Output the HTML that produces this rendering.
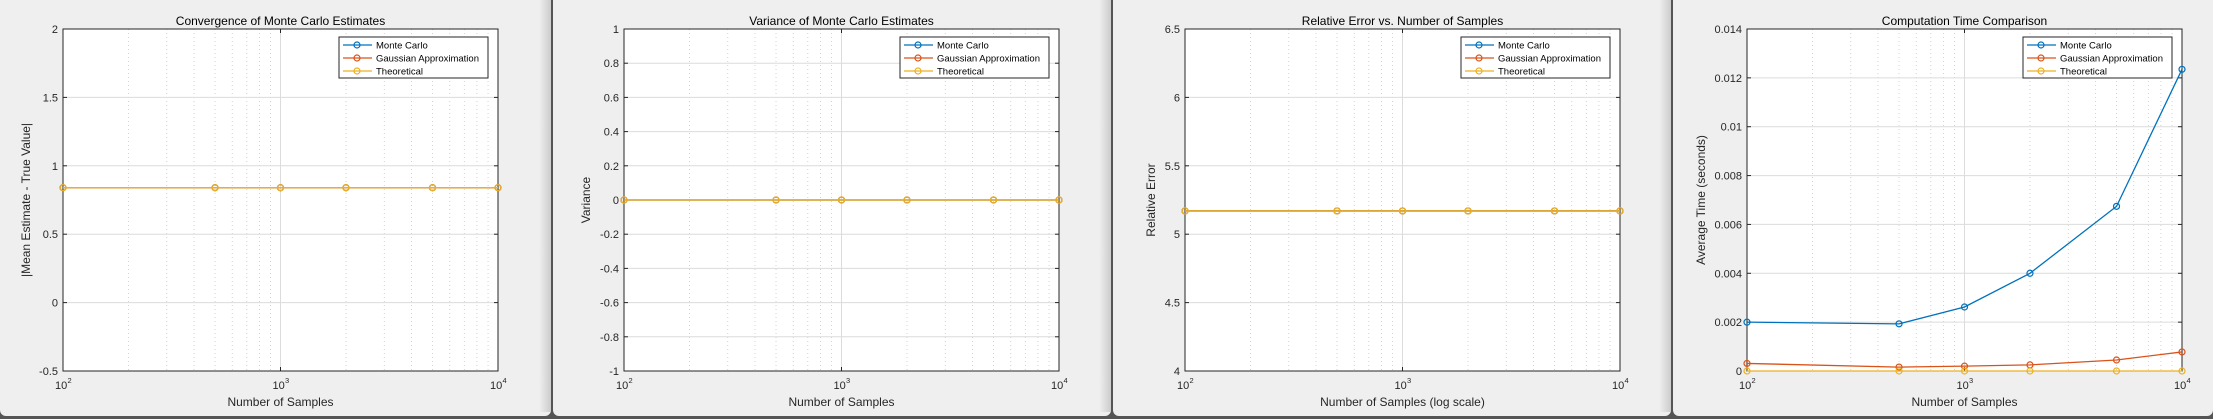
<!DOCTYPE html>
<html><head><meta charset="utf-8"><style>
html,body{margin:0;padding:0;background:#3a3a3a;}
svg{display:block;font-family:"Liberation Sans",sans-serif;}
</style></head><body>
<svg id="root" width="2213" height="419" viewBox="0 0 2213 419" xmlns="http://www.w3.org/2000/svg">
<defs>
<linearGradient id="shade" x1="0" x2="1" y1="0" y2="0">
<stop offset="0" stop-color="#efefef"/><stop offset="1" stop-color="#bdbdbd"/>
</linearGradient>
</defs>
<rect x="0" y="0" width="2213" height="419" fill="#555"/>
</svg>
<script>
// shared x categories (number of samples)
const sampleSizes = [100, 500, 1000, 2000, 5000, 10000];
const seriesNames = ["Monte Carlo", "Gaussian Approximation", "Theoretical"];
// panel 1
const p1Mc = [0.84, 0.84, 0.84, 0.84, 0.84, 0.84];
const p1Ga = [0.84, 0.84, 0.84, 0.84, 0.84, 0.84];
const p1Th = [0.84, 0.84, 0.84, 0.84, 0.84, 0.84];
const p1Ticks = [-0.5, 0, 0.5, 1, 1.5, 2];
const p1TickLabels = ["-0.5", "0", "0.5", "1", "1.5", "2"];
// panel 2
const p2Mc = [0, 0, 0, 0, 0, 0];
const p2Ga = [0, 0, 0, 0, 0, 0];
const p2Th = [0, 0, 0, 0, 0, 0];
const p2Ticks = [-1, -0.8, -0.6, -0.4, -0.2, 0, 0.2, 0.4, 0.6, 0.8, 1];
const p2TickLabels = ["-1", "-0.8", "-0.6", "-0.4", "-0.2", "0", "0.2", "0.4", "0.6", "0.8", "1"];
// panel 3
const p3Mc = [5.17, 5.17, 5.17, 5.17, 5.17, 5.17];
const p3Ga = [5.17, 5.17, 5.17, 5.17, 5.17, 5.17];
const p3Th = [5.17, 5.17, 5.17, 5.17, 5.17, 5.17];
const p3Ticks = [4, 4.5, 5, 5.5, 6, 6.5];
const p3TickLabels = ["4", "4.5", "5", "5.5", "6", "6.5"];
// panel 4
const p4Mc = [0.00200, 0.00193, 0.00262, 0.00400, 0.00674, 0.01235];
const p4Ga = [0.00031, 0.00016, 0.00020, 0.00025, 0.00045, 0.00078];
const p4Th = [0, 0, 0, 0, 0, 0];
const p4Ticks = [0, 0.002, 0.004, 0.006, 0.008, 0.01, 0.012, 0.014];
const p4TickLabels = ["0", "0.002", "0.004", "0.006", "0.008", "0.01", "0.012", "0.014"];
const xTickExp = ["2", "3", "4"];

const NS = "http://www.w3.org/2000/svg";
const root = document.getElementById("root");
const colors = ["#0072bd", "#d95319", "#edb120"];

function mk(tag, attrs, parent, text) {
  const e = document.createElementNS(NS, tag);
  for (const k in attrs) e.setAttribute(k, attrs[k]);
  if (text !== undefined) e.textContent = text;
  (parent || root).appendChild(e);
  return e;
}

const panels = [
  {win: [0, 551], left: 63, title: "Convergence of Monte Carlo Estimates", ylab: "|Mean Estimate - True Value|", xlab: "Number of Samples", ylabX: 30, ymin: -0.5, ymax: 2, ticks: p1Ticks, tl: p1TickLabels, series: [p1Mc, p1Ga, p1Th], id: "convergence"},
  {win: [553, 1111], left: 624, title: "Variance of Monte Carlo Estimates", ylab: "Variance", xlab: "Number of Samples", ylabX: 590, ymin: -1, ymax: 1, ticks: p2Ticks, tl: p2TickLabels, series: [p2Mc, p2Ga, p2Th], id: "variance"},
  {win: [1113, 1671], left: 1185, title: "Relative Error vs. Number of Samples", ylab: "Relative Error", xlab: "Number of Samples (log scale)", ylabX: 1155, ymin: 4, ymax: 6.5, ticks: p3Ticks, tl: p3TickLabels, series: [p3Mc, p3Ga, p3Th], id: "relative-error"},
  {win: [1673, 2213], left: 1747, title: "Computation Time Comparison", ylab: "Average Time (seconds)", xlab: "Number of Samples", ylabX: 1705, ymin: 0, ymax: 0.014, ticks: p4Ticks, tl: p4TickLabels, series: [p4Mc, p4Ga, p4Th], id: "computation-time"}
];

const TOP = 29, BOT = 371, DEC = 217.5;

panels.forEach((p, pi) => {
  const g = mk("g", {});
  
  
  mk("rect", {x: p.win[0], y: 0, width: p.win[1] - p.win[0], height: 416, rx: 6, fill: "#efefef"}, g);
  mk("rect", {x: p.win[0], y: 0, width: p.win[1] - p.win[0], height: 8, fill: "#efefef"}, g);
  if (pi < 3) mk("rect", {x: p.win[1] - 12, y: 0, width: 12, height: 412, fill: "url(#shade)", opacity: 0.7}, g);
  const L = p.left, R = L + 2 * DEC;
  const xs = (v) => L + (Math.log10(v) - 2) * DEC;
  const ys = (v) => BOT - (v - p.ymin) / (p.ymax - p.ymin) * (BOT - TOP);
  mk("rect", {x: L, y: TOP, width: R - L, height: BOT - TOP, fill: "#fff"}, g);
  for (let d = 2; d <= 3; d++) for (let m = 2; m <= 9; m++) {
    const x = xs(m * Math.pow(10, d));
    mk("line", {x1: x, x2: x, y1: TOP, y2: BOT, stroke: "#c8c8c8", "stroke-width": 0.8, "stroke-dasharray": "1,3"}, g);
  }
  const xg = xs(1000);
  mk("line", {x1: xg, x2: xg, y1: TOP, y2: BOT, stroke: "#dcdcdc", "stroke-width": 1}, g);
  p.ticks.forEach((t, i) => {
    const y = ys(t);
    const gl = mk("line", {x1: L, x2: R, y1: y, y2: y, stroke: "#dcdcdc", "stroke-width": 1}, g);
    
    
    mk("line", {x1: L, x2: L + 4, y1: y, y2: y, stroke: "#262626"}, g);
    mk("line", {x1: R, x2: R - 4, y1: y, y2: y, stroke: "#262626"}, g);
    const tl = mk("text", {x: L - 5, y: y + 4, "text-anchor": "end", "font-size": 11, fill: "#262626"}, g, p.tl[i]);
    
    
  });
  xTickExp.forEach((e, i) => {
    const x = xs(Math.pow(10, 2 + i));
    mk("line", {x1: x, x2: x, y1: BOT, y2: BOT - 4, stroke: "#262626"}, g);
    mk("line", {x1: x, x2: x, y1: TOP, y2: TOP + 4, stroke: "#262626"}, g);
    const t = mk("text", {x: x - 8, y: 389, "font-size": 11, fill: "#262626"}, g, "10");
    
    
    mk("text", {x: x + 4.5, y: 383, "font-size": 7.5, fill: "#262626"}, g, e);
  });
  const box = mk("rect", {x: L, y: TOP, width: R - L, height: BOT - TOP, fill: "none", stroke: "#262626", "stroke-width": 1}, g);
  
  
  p.series.forEach((s, si) => {
    const pts = sampleSizes.map((n, i) => xs(n) + "," + ys(s[i])).join(" ");
    const pl = mk("polyline", {points: pts, fill: "none", stroke: colors[si], "stroke-width": 1.3}, g);
    
    
    sampleSizes.forEach((n, i) => {
      const c = mk("circle", {cx: xs(n), cy: ys(s[i]), r: 3, fill: "none", stroke: colors[si], "stroke-width": 1.2}, g);
      
      
    });
  });
  const tt = mk("text", {x: (L + R) / 2, y: 25, "text-anchor": "middle", "font-size": 12, fill: "#000"}, g, p.title);
  
  
  const xl = mk("text", {x: (L + R) / 2, y: 406, "text-anchor": "middle", "font-size": 12, fill: "#262626"}, g, p.xlab);
  
  
  const cy = (TOP + BOT) / 2;
  const yl = mk("text", {x: p.ylabX, y: cy, "text-anchor": "middle", "font-size": 12, fill: "#262626", transform: "rotate(-90 " + (p.ylabX) + " " + cy + ")"}, g, p.ylab);
  
  
  const lg = mk("g", {}, g);
  
  
  const lx = R - 159, ly = 37;
  mk("rect", {x: lx, y: ly, width: 149, height: 41, fill: "#fff", stroke: "#262626", "stroke-width": 1}, lg);
  seriesNames.forEach((nm, i) => {
    const yy = ly + 8 + i * 13;
    const le = mk("g", {}, lg);
    
    
    mk("line", {x1: lx + 4, x2: lx + 33, y1: yy, y2: yy, stroke: colors[i], "stroke-width": 1.3}, le);
    mk("circle", {cx: lx + 18, cy: yy, r: 3, fill: "none", stroke: colors[i], "stroke-width": 1.2}, le);
    mk("text", {x: lx + 37, y: yy + 3.5, "font-size": 9.5, fill: "#000"}, le, nm);
  });
});
</script>
</body></html>
